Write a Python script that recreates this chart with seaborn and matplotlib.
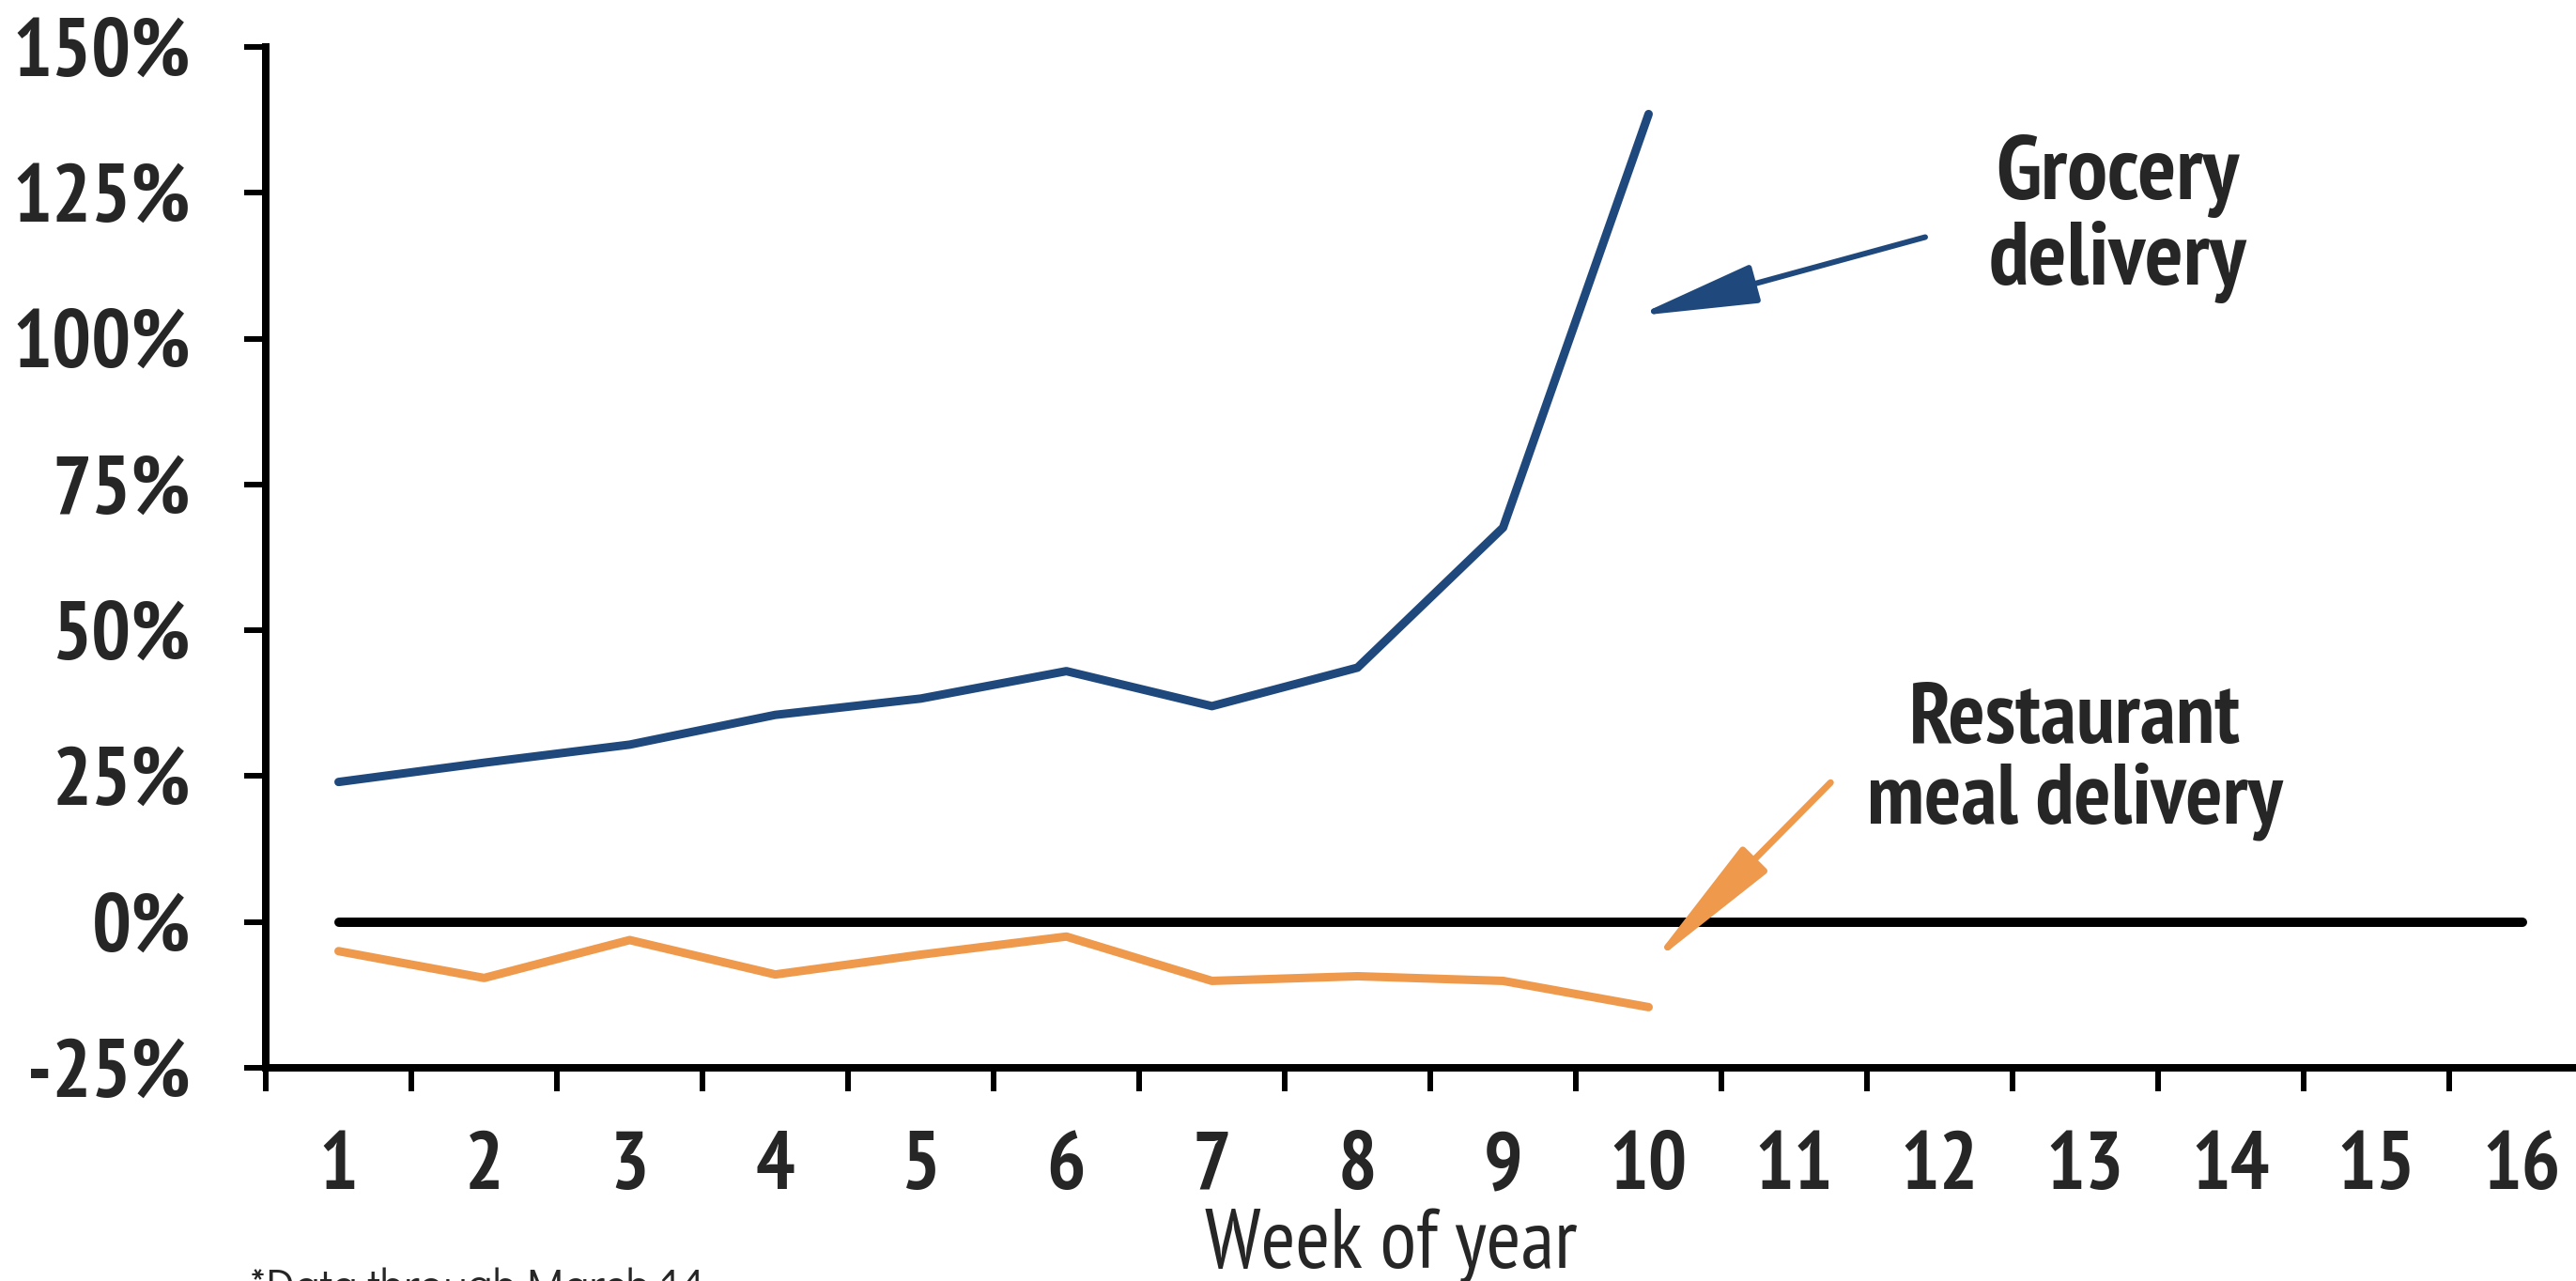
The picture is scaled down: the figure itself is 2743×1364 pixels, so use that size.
import numpy as np
import pandas as pd
import matplotlib
matplotlib.use("Agg")
import matplotlib.pyplot as plt
import seaborn as sns
from matplotlib import font_manager as fm
from matplotlib.ticker import FixedLocator, FixedFormatter, NullFormatter

# Weekly year-over-year growth in delivery orders (%)
weeks = list(range(1, 17))
grocery_weeks = list(range(1, 11))
grocery_growth = [24.0, 27.3, 30.4, 35.5, 38.3, 43.0, 37.0, 43.6, 67.6, 138.5]
restaurant_growth = [-5.0, -9.6, -3.1, -9.0, -5.6, -2.5, -10.1, -9.3, -10.1, -14.6]
baseline = [0] * len(weeks)
y_ticks = [-25, 0, 25, 50, 75, 100, 125, 150]
week_labels = [str(w) for w in weeks]

BLUE = "#1F487C"
ORANGE = "#EE994C"


def pick(candidates, need_bold=False):
    """Return the first installed family from candidates."""
    for name in candidates:
        entries = [f for f in fm.fontManager.ttflist if f.name == name]
        if not entries:
            continue
        if need_bold and not any(int(f.weight) >= 600 if str(f.weight).isdigit()
                                 else "bold" in str(f.weight) for f in entries):
            continue
        return name
    return "Liberation Sans"


NARROW_CANDIDATES = ["Liberation Sans Narrow", "Arial Narrow", "Nimbus Sans Narrow",
                     "PT Sans Narrow", "IBM Plex Sans Condensed"]
NARROW_BOLD = pick(NARROW_CANDIDATES, need_bold=True)
NARROW_REG = pick(NARROW_CANDIDATES)
GOTHIC = pick(["Didact Gothic", "Questrial", "URW Gothic", "Lato"])

sns.set_theme(style="white")
plt.rcParams["font.family"] = [NARROW_REG, "DejaVu Sans"]

DPI = 72
W, H = 2743, 1364
fig = plt.figure(figsize=(W / DPI, H / DPI), dpi=DPI)
ax_left, ax_bottom = 283 / W, (H - 1137) / H
ax_width, ax_height = 16 * 155 / W, (1137 - 50) / H
ax = fig.add_axes([ax_left, ax_bottom, ax_width, ax_height])

base_df = pd.DataFrame({"week": weeks, "value": baseline})
groc_df = pd.DataFrame({"week": grocery_weeks, "value": grocery_growth})
rest_df = pd.DataFrame({"week": grocery_weeks, "value": restaurant_growth})

sns.lineplot(data=base_df, x="week", y="value", ax=ax, color="black",
             linewidth=10, zorder=2)
sns.lineplot(data=rest_df, x="week", y="value", ax=ax, color=ORANGE,
             linewidth=9, zorder=3)
sns.lineplot(data=groc_df, x="week", y="value", ax=ax, color=BLUE,
             linewidth=9, zorder=3)

ax.set_xlim(0.5, 16.5)
ax.set_ylim(-25, 150)
ax.set_xlabel("")
ax.set_ylabel("")

BOLD_FAMILY = [NARROW_BOLD, "DejaVu Sans"]

# category boundaries carry the tick marks, labels sit at the centres
ax.xaxis.set_major_locator(FixedLocator(np.arange(0.5, 17, 1)))
ax.xaxis.set_major_formatter(NullFormatter())
ax.xaxis.set_minor_locator(FixedLocator(weeks))
ax.xaxis.set_minor_formatter(FixedFormatter(week_labels))
ax.tick_params(axis="x", which="major", length=25, width=6, direction="out",
               color="black", bottom=True)
ax.tick_params(axis="x", which="minor", length=0, pad=68, bottom=True)
for lab in ax.xaxis.get_minorticklabels():
    lab.set(family=BOLD_FAMILY, weight="bold", size=87)

ax.yaxis.set_major_locator(FixedLocator(y_ticks))
ax.yaxis.set_major_formatter(FixedFormatter([f"{v}%" for v in y_ticks]))
ax.tick_params(axis="y", which="major", length=23, width=6, direction="out",
               color="black", left=True, pad=57)
for lab in ax.yaxis.get_majorticklabels():
    lab.set(family=BOLD_FAMILY, weight="bold", size=88)

for side in ("top", "right"):
    ax.spines[side].set_visible(False)
for side in ("left", "bottom"):
    ax.spines[side].set_color("black")
    ax.spines[side].set_linewidth(8)
ax.grid(False)

# callouts
ax.text(13.22, 120.5, "Grocery\ndelivery", ha="center", va="center",
        linespacing=1.05, family=BOLD_FAMILY, weight="bold", size=96)
ax.annotate("", xy=(9.92, 103.9), xytext=(11.9, 117.4),
            arrowprops=dict(arrowstyle="-|>,head_length=1.1,head_width=0.18",
                            mutation_scale=100, lw=6, color=BLUE,
                            shrinkA=0, shrinkB=0))

ax.text(12.93, 27.5, "Restaurant\nmeal delivery", ha="center", va="center",
        linespacing=1.05, family=BOLD_FAMILY, weight="bold", size=92)
ax.annotate("", xy=(10.0, -7.6), xytext=(11.25, 23.9),
            arrowprops=dict(arrowstyle="-|>,head_length=1.3,head_width=0.16",
                            mutation_scale=100, lw=7, color=ORANGE,
                            shrinkA=0, shrinkB=0))

fig.text(0.540, 14 / H, "Week of year", ha="center", va="baseline",
         fontsize=89, family=[NARROW_REG, "DejaVu Sans"])
fig.text(266 / W, -20 / H, "*Data through March 14", ha="left", va="baseline",
         fontsize=48, family=[GOTHIC, "DejaVu Sans"])

fig.savefig("out.png", dpi=DPI, facecolor="white")
